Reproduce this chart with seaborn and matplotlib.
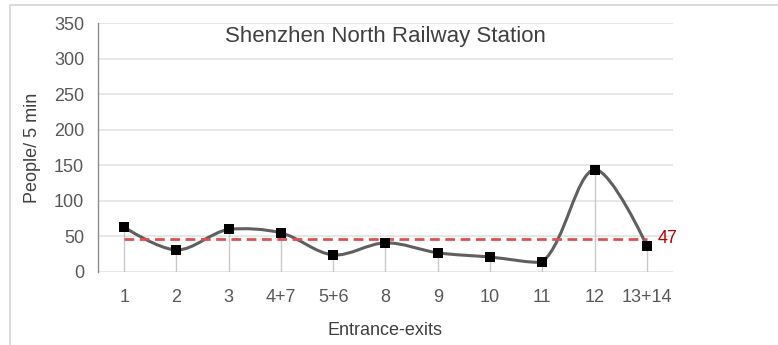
import matplotlib
matplotlib.use("Agg")
import matplotlib.pyplot as plt
from matplotlib.path import Path
from matplotlib.patches import PathPatch, Rectangle
import seaborn as sns
import numpy as np
import pandas as pd

# data
exits = ["1", "2", "3", "4+7", "5+6", "8", "9", "10", "11", "12", "13+14"]
people = [63, 31, 60, 55, 24, 41, 27, 21, 14, 144, 37]
mean_value = 47

TEXT = "#595959"


def smooth_path(xs, ys, yscale):
    """Distance weighted bezier smoothing (close to Excel's 'smoothed line')."""
    pts = np.column_stack([xs, ys]).astype(float)
    n = len(pts)
    # segment lengths measured with y scaled to screen proportions
    seg = np.hypot(np.diff(pts[:, 0]), np.diff(pts[:, 1]) * yscale)
    c_in = pts.copy()
    c_out = pts.copy()
    for i in range(1, n - 1):
        tang = pts[i + 1] - pts[i - 1]
        tot = seg[i - 1] + seg[i]
        c_in[i] = pts[i] - tang * seg[i - 1] / tot / 3.0
        c_out[i] = pts[i] + tang * seg[i] / tot / 3.0
    verts = [pts[0]]
    codes = [Path.MOVETO]
    for i in range(n - 1):
        lo, hi = sorted([pts[i, 1], pts[i + 1, 1]])
        a, b = c_out[i].copy(), c_in[i + 1].copy()
        # keep the curve from overshooting far past its end points
        a[1] = np.clip(a[1], lo - 2, hi + 2)
        b[1] = np.clip(b[1], lo - 2, hi + 2)
        verts += [a, b, pts[i + 1]]
        codes += [Path.CURVE4] * 3
    return Path(verts, codes)


df = pd.DataFrame({"exit": exits, "people": people})
df["pos"] = np.arange(len(df))

sns.set_theme(style="whitegrid")
plt.rcParams["font.family"] = ["Liberation Sans", "DejaVu Sans"]

fig = plt.figure(figsize=(7.78, 3.45), dpi=100)
ax = fig.add_axes([0.126, 0.2116, 0.739, 0.7217])

# light frame round the chart like the exported office chart
fig.patches.append(Rectangle((10 / 778, -0.1), 1.2, (1 - 5 / 345) + 0.1,
                             transform=fig.transFigure, fill=False,
                             edgecolor="#d4d4d4", linewidth=1.2))

# drop lines
ax.vlines(df["pos"], 0, df["people"], color="#c8c8c8", linewidth=1, zorder=1)

# smoothed line (y pixels per unit / x pixels per category)
ax.add_patch(PathPatch(smooth_path(df["pos"], df["people"], 0.711 / 52.3),
                       fill=False, edgecolor="#5f5f5f", linewidth=2.2, zorder=2))

# mean line
ax.hlines(mean_value, df["pos"].iloc[0], df["pos"].iloc[-1], color="#e05050",
          linestyles=(0, (3.5, 2)), linewidth=2, zorder=3)
ax.text(df["pos"].iloc[-1] + 0.2, mean_value, str(mean_value), color="#c00000",
        fontsize=13, va="center", ha="left", clip_on=False)

# markers
sns.scatterplot(data=df, x="pos", y="people", marker="s", s=60, color="black",
                edgecolor="black", linewidth=0, zorder=4, ax=ax)

ax.set_xlim(-0.5, len(exits) - 0.5)
ax.set_ylim(0, 350)
ax.set_yticks(range(0, 351, 50))
ax.set_xticks(df["pos"])
ax.set_xticklabels(exits)
ax.tick_params(axis="both", length=0, labelsize=13, labelcolor=TEXT)
ax.tick_params(axis="x", pad=12)
ax.tick_params(axis="y", pad=10)
ax.grid(axis="x", visible=False)
ax.grid(axis="y", color="#e3e3e3", linewidth=1.2)

for side in ["top", "right", "bottom"]:
    ax.spines[side].set_visible(False)
ax.spines["left"].set_color("#8c8c8c")
ax.spines["left"].set_linewidth(1)

ax.set_xlabel("Entrance-exits", fontsize=13, color="#404040", labelpad=12)
ax.set_ylabel("People/ 5 min", fontsize=13, color="#404040", labelpad=9)
ax.text(0.5, 0.99, "Shenzhen North Railway Station", transform=ax.transAxes,
        ha="center", va="top", fontsize=16, color="#404040")

fig.savefig("out.png", dpi=100)
